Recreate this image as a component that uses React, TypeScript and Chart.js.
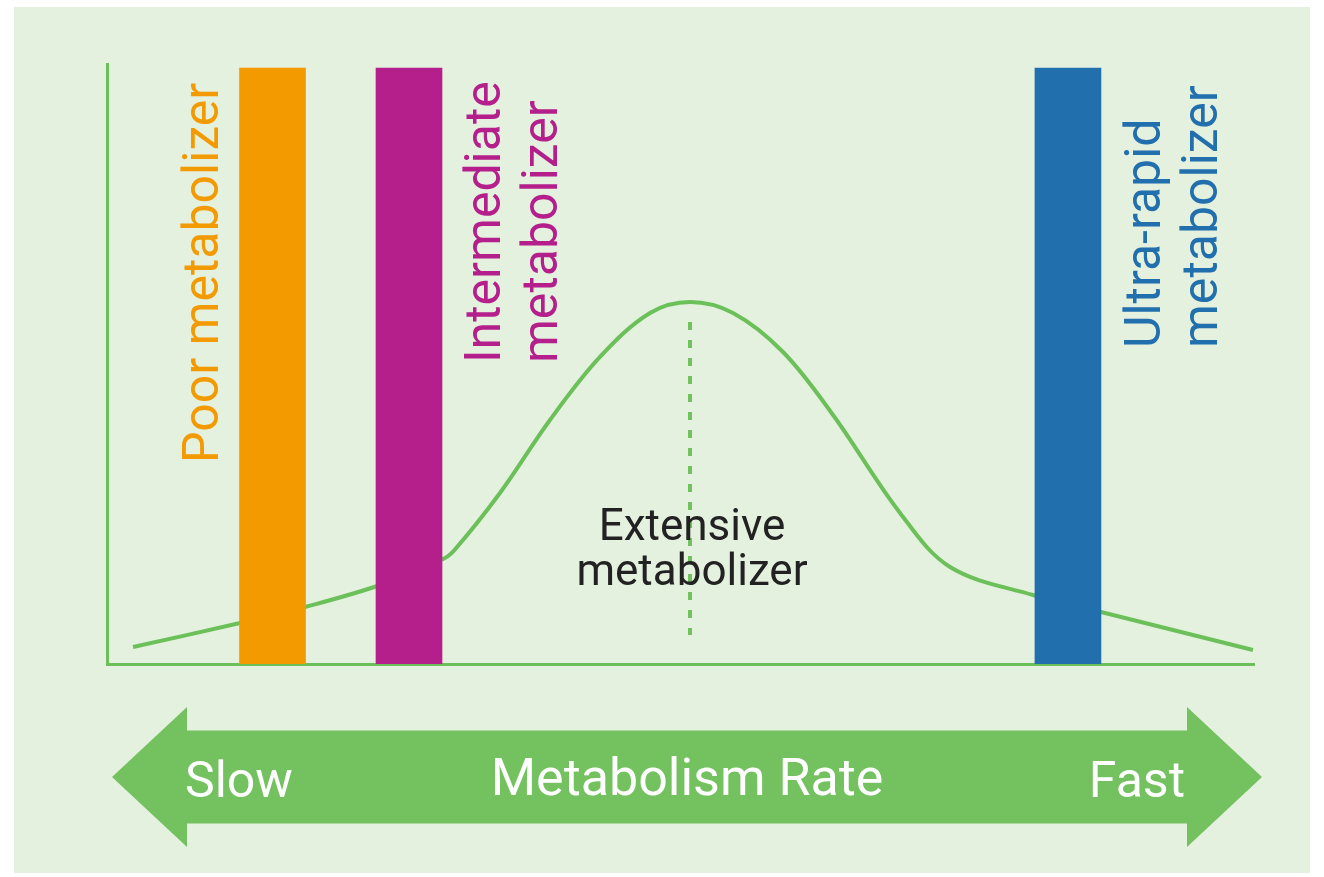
import React, { useEffect, useRef } from 'react';
import { Chart, registerables } from 'chart.js';

Chart.register(...registerables);

// Distribution curve (x: metabolism rate 0-100, y: relative frequency 0-100)
const curveX = [2.27, 11.6, 17.26, 23.54, 29.12, 30.2, 34.26, 38.62, 42.98, 47.34, 50.83, 54.58, 58.94, 63.3, 69.14, 73.5, 80.73, 86.66, 99.91];
const curveY = [2.83, 6.83, 9.5, 13.0, 17.33, 18.8, 28.5, 40.67, 51.17, 58.5, 60.33, 58.5, 52.0, 41.5, 25.17, 16.17, 11.5, 8.67, 2.33];

// Phenotype bars
const barCategories = ['Poor metabolizer', 'Intermediate metabolizer', 'Ultra-rapid metabolizer'];
const barX = [14.43, 26.33, 83.78];
const barHeights = [99.3, 99.3, 99.3];
const barColors = ['#f29a00', '#b41f8c', '#226fae'];
const barLabelLines = [['Poor metabolizer'], ['Intermediate', 'metabolizer'], ['Ultra-rapid', 'metabolizer']];

// Peak marker (extensive metabolizer)
const peakX = 50.83;
const peakLineY = [57, 4.83];
const peakLabelLines = ['Extensive', 'metabolizer'];

// Axis arrow
const arrowLabels = ['Slow', 'Metabolism Rate', 'Fast'];

const GREEN = '#6cc05a';
const ARROW = '#74c15f';
const BG = '#e5f1df';
const FONT = 'Roboto, "Open Sans", sans-serif';

// label layout: baseline offset (px) from bar centre, start y value
const labelLayout = [
  { dx: -54.5, y0: 33.5 },
  { dx: 91, y0: 50.17 },
  { dx: 92, y0: 52.67 },
];

const decorPlugin = {
  id: 'decor',
  beforeDraw(chart: any) {
    const { ctx, width, height } = chart;
    ctx.save();
    ctx.fillStyle = '#ffffff';
    ctx.fillRect(0, 0, width, height);
    ctx.fillStyle = BG;
    ctx.fillRect(14, 7, 1296, 866);
    ctx.restore();
  },
  afterDraw(chart: any) {
    const { ctx, chartArea: ca, scales } = chart;
    const xs = scales.x;
    const ys = scales.y;
    ctx.save();
    // rotated bar labels
    ctx.font = `400 50px ${FONT}`;
    ctx.textAlign = 'left';
    ctx.textBaseline = 'alphabetic';
    barLabelLines.forEach((lines, i) => {
      const bx = xs.getPixelForValue(barX[i]) + labelLayout[i].dx;
      const by = ys.getPixelForValue(labelLayout[i].y0);
      ctx.save();
      ctx.translate(bx, by);
      ctx.rotate(-Math.PI / 2);
      ctx.fillStyle = barColors[i];
      lines.forEach((t, j) => ctx.fillText(t, 0, j * 57));
      ctx.restore();
    });
    // extensive label
    ctx.font = `400 44px ${FONT}`;
    ctx.fillStyle = '#222222';
    ctx.textAlign = 'center';
    const px = xs.getPixelForValue(peakX) + 2;
    ctx.fillText(peakLabelLines[0], px, 540);
    ctx.fillText(peakLabelLines[1], px, 585);

    // arrow
    const cy = ca.bottom + 113;
    const lx = ca.left + 5;
    const rx = ca.right + 8;
    const headLen = 75;
    const headH = 70;
    const bodyH = 46.5;
    ctx.fillStyle = ARROW;
    ctx.beginPath();
    ctx.moveTo(lx, cy);
    ctx.lineTo(lx + headLen, cy - headH);
    ctx.lineTo(lx + headLen, cy - bodyH);
    ctx.lineTo(rx - headLen, cy - bodyH);
    ctx.lineTo(rx - headLen, cy - headH);
    ctx.lineTo(rx, cy);
    ctx.lineTo(rx - headLen, cy + headH);
    ctx.lineTo(rx - headLen, cy + bodyH);
    ctx.lineTo(lx + headLen, cy + bodyH);
    ctx.lineTo(lx + headLen, cy + headH);
    ctx.closePath();
    ctx.fill();

    ctx.fillStyle = '#ffffff';
    ctx.font = `400 50px ${FONT}`;
    ctx.textAlign = 'left';
    ctx.fillText(arrowLabels[0], lx + 73, cy + 20);
    ctx.textAlign = 'center';
    ctx.font = `400 52px ${FONT}`;
    ctx.fillText(arrowLabels[1], (lx + rx) / 2, cy + 18);
    ctx.textAlign = 'right';
    ctx.font = `400 50px ${FONT}`;
    ctx.fillText(arrowLabels[2], rx - 77, cy + 20);
    ctx.restore();
  },
};

export default function App() {
  const ref = useRef<HTMLCanvasElement | null>(null);
  useEffect(() => {
    if (!ref.current) return;
    const chart = new Chart(ref.current, {
      type: 'line',
      data: {
        datasets: [
          {
            type: 'bar',
            label: 'Phenotypes',
            data: barX.map((x, i) => ({ x, y: barHeights[i] })),
            backgroundColor: barColors,
            borderWidth: 0,
            barThickness: 66,
            order: 0,
          } as any,
          {
            type: 'line',
            label: 'Distribution',
            data: curveX.map((x, i) => ({ x, y: curveY[i] })),
            borderColor: GREEN,
            borderWidth: 4,
            pointRadius: 0,
            tension: 0.35,
            fill: false,
            order: 2,
          },
          {
            type: 'line',
            label: 'Peak',
            data: peakLineY.map((y) => ({ x: peakX, y })),
            borderColor: '#70c25d',
            borderWidth: 4,
            borderDash: [8, 10],
            pointRadius: 0,
            fill: false,
            order: 1,
          },
        ],
      },
      options: {
        responsive: false,
        animation: false,
        devicePixelRatio: 1,
        layout: { padding: { left: 107, top: 64, right: 70, bottom: 213 } },
        plugins: { legend: { display: false }, tooltip: { enabled: false }, title: { display: false } },
        scales: {
          x: {
            type: 'linear',
            min: 0,
            max: 100,
            offset: false,
            z: 1,
            grid: { display: false, drawTicks: false, tickLength: 0, offset: false },
            border: { display: true, color: GREEN, width: 3 },
            ticks: { display: false },
          },
          y: {
            type: 'linear',
            min: 0,
            max: 100,
            z: 1,
            grid: { display: false, drawTicks: false, tickLength: 0 },
            border: { display: true, color: GREEN, width: 3 },
            ticks: { display: false },
          },
        },
      },
      plugins: [decorPlugin],
    });
    return () => chart.destroy();
  }, []);
  return (
    <div style={{ position: 'absolute', left: 0, top: 0, width: 1324, height: 877, background: '#fff' }}>
      <canvas ref={ref} width={1324} height={877} style={{ display: 'block' }} />
    </div>
  );
}
